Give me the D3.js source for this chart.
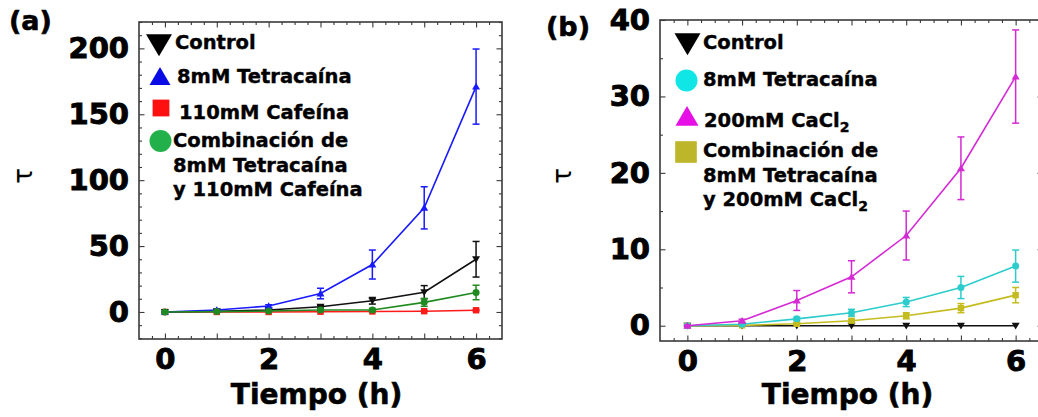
<!DOCTYPE html>
<html><head><meta charset="utf-8">
<script src="https://cdn.jsdelivr.net/npm/d3@7"></script>
<style>
html,body{margin:0;padding:0;background:#fff;}
svg{display:block;font-family:"DejaVu Sans",sans-serif;}
</style></head>
<body>
<svg id="chart" width="1038" height="417"></svg>
<script>
// ---------- data ----------
const hours = [0, 1, 2, 3, 4, 5, 6];
const xTickLabels = [0, 2, 4, 6];

// Panel (a)
const yTicksA = [0, 50, 100, 150, 200];
const controlA = [0, 0.5, 1.5, 4, 8.5, 15, 40];
const controlAErr = [0.3, 0.3, 0.5, 1, 2.5, 5, 13.5];
const tetraA = [0, 1.5, 4.5, 14, 36, 79, 171];
const tetraAErr = [0.5, 0.5, 1, 4, 11, 16, 28.5];
const cafA = [0, 0, 0, 0.2, 0.4, 0.6, 1.3];
const cafAErr = [0.1, 0.1, 0.1, 0.2, 0.3, 0.3, 0.5];
const combA = [0, 0.3, 0.7, 1.5, 1.5, 7.3, 14.8];
const combAErr = [0.2, 0.2, 0.3, 0.6, 1.2, 3, 5.5];
const legendA = ["Control", "8mM Tetracaína", "110mM Cafeína",
  ["Combinación de", "8mM Tetracaína", "y 110mM Cafeína"]];

// Panel (b)
const yTicksB = [0, 10, 20, 30, 40];
const controlB = [0, 0, 0, 0, 0, 0, 0];
const controlBErr = [0, 0, 0, 0, 0, 0, 0];
const tetraB = [0, 0.2, 0.9, 1.7, 3.1, 5.0, 7.8];
const tetraBErr = [0.05, 0.1, 0.2, 0.45, 0.6, 1.45, 2.1];
const caclB = [0, 0.65, 3.3, 6.4, 11.8, 20.6, 32.6];
const caclBErr = [0.1, 0.2, 1.3, 2.1, 3.2, 4.1, 6.1];
const combB = [0, 0.05, 0.25, 0.65, 1.3, 2.3, 4.0];
const combBErr = [0.05, 0.05, 0.1, 0.2, 0.4, 0.6, 1.0];
const legendB = ["Control", "8mM Tetracaína", "200mM CaCl2",
  ["Combinación de", "8mM Tetracaína", "y 200mM CaCl2"]];

// ---------- drawing ----------
const svg = d3.select("#chart");
const FONT = "DejaVu Sans";

function markerPath(shape, size) {
  const s = size;
  if (shape === "down") return `M${-s},${-s*0.75}L${s},${-s*0.75}L0,${s*0.95}Z`;
  if (shape === "up") return `M${-s},${s*0.75}L${s},${s*0.75}L0,${-s*0.95}Z`;
  if (shape === "square") return `M${-s*0.8},${-s*0.8}H${s*0.8}V${s*0.8}H${-s*0.8}Z`;
  return d3.symbol(d3.symbolCircle, Math.PI*s*s)();
}

function heavy(sel, w) {
  sel.attr("font-family", FONT).attr("font-weight", "bold").attr("fill", "#000")
    .attr("stroke", "#000").attr("stroke-width", w).attr("paint-order", "stroke");
}

function panel(cfg) {
  const g = svg.append("g");
  const {L, R, T, B} = cfg.box;
  const x = d3.scaleLinear().domain([-0.5, 6.5]).range([L, R]);
  const y = d3.scaleLinear().domain(cfg.yDomain).range([B, T]);

  // frame
  g.append("rect").attr("x", L).attr("y", T).attr("width", R - L).attr("height", B - T)
    .attr("fill", "none").attr("stroke", "#3a3a3a").attr("stroke-width", 1.6);

  // ticks (inside, all sides)
  const xMajor = d3.range(0, 7, 1);
  const xMinor = d3.range(-0.25, 6.5, 0.25).filter(v => Math.abs(v - Math.round(v)) > 1e-6);
  const yMajor = d3.range(0, cfg.yDomain[1] + 1e-6, cfg.yMajor);
  const yMinor = d3.range(Math.ceil(cfg.yDomain[0] / cfg.yMinor) * cfg.yMinor, cfg.yDomain[1] + 1e-6, cfg.yMinor)
    .filter(v => Math.abs(v / cfg.yMajor - Math.round(v / cfg.yMajor)) > 1e-6);
  const tickAxes = [
    [d3.axisBottom(x), B, 0], [d3.axisTop(x), T, 0],
    [d3.axisLeft(y), L, 1], [d3.axisRight(y), R, 1]
  ];
  tickAxes.forEach(([ax, pos, isY]) => {
    [[isY ? yMajor : xMajor, 5.5], [isY ? yMinor : xMinor, 3]].forEach(([vals, len]) => {
      const a = ax.tickValues(vals).tickSize(-len).tickFormat("");
      const gg = g.append("g").attr("transform", isY ? `translate(${pos},0)` : `translate(0,${pos})`).call(a);
      gg.select(".domain").remove();
      gg.selectAll("line").attr("stroke", "#3a3a3a").attr("stroke-width", 1.1);
    });
  });

  // tick labels
  const xl = g.append("g").attr("transform", `translate(0,${B})`)
    .call(d3.axisBottom(x).tickValues(xTickLabels).tickFormat(d3.format("d")).tickSize(0).tickPadding(9));
  xl.select(".domain").remove();
  xl.selectAll("text").attr("font-size", 29).call(heavy, 0.9);
  const yl = g.append("g").attr("transform", `translate(${L},0)`)
    .call(d3.axisLeft(y).tickValues(cfg.yTicks).tickFormat(d3.format("d")).tickSize(0).tickPadding(10));
  yl.select(".domain").remove();
  yl.selectAll("text").attr("font-size", 29).call(heavy, 0.9);

  // axis titles
  g.append("text").attr("x", (L + R) / 2 - 4).attr("y", 404).attr("text-anchor", "middle")
    .attr("font-size", 28).text("Tiempo (h)").call(heavy, 0.6);
  g.append("text").attr("transform", `translate(${cfg.tauX},176) rotate(-90)`)
    .attr("text-anchor", "middle").attr("dy", "0.35em")
    .attr("font-family", FONT).attr("font-size", 26).text("τ");
  g.append("text").attr("x", cfg.labelX).attr("y", cfg.labelY)
    .attr("font-size", 27).text(cfg.label).call(heavy, 0.6);

  // series
  const line = d3.line().x((d, i) => x(hours[i])).y(d => y(d));
  cfg.series.forEach(s => {
    const sg = g.append("g");
    sg.append("path").datum(s.values).attr("d", line).attr("fill", "none")
      .attr("stroke", s.line).attr("stroke-width", 1.6);
    s.values.forEach((v, i) => {
      const e = s.err[i];
      if (e > 0) {
        const cx = x(hours[i]);
        sg.append("line").attr("x1", cx).attr("x2", cx).attr("y1", y(v - e)).attr("y2", y(v + e))
          .attr("stroke", s.line).attr("stroke-width", 1.5);
        [v - e, v + e].forEach(w => sg.append("line").attr("x1", cx - 3.5).attr("x2", cx + 3.5)
          .attr("y1", y(w)).attr("y2", y(w)).attr("stroke", s.line).attr("stroke-width", 1.5));
      }
      sg.append("path").attr("transform", `translate(${x(hours[i])},${y(v)})`)
        .attr("d", markerPath(s.shape, s.shape === "circle" ? 3.5 : 4)).attr("fill", s.line);
    });
  });

  // legend
  cfg.legend.forEach((it, idx) => {
    g.append("path").attr("transform", `translate(${it.mx},${it.my})`)
      .attr("d", markerPath(it.shape, it.size)).attr("fill", it.color);
    const entry = cfg.legendText[idx];
    const lines = Array.isArray(entry) ? entry : [entry];
    lines.forEach((t, k) => {
      const txt = g.append("text").attr("x", it.tx).attr("y", it.ty + k * 24.5)
        .attr("font-size", 19.5).call(heavy, 0.4);
      const m = t.match(/^(.*CaCl)2$/);
      if (m) {
        txt.append("tspan").text(m[1]);
        txt.append("tspan").attr("dy", 5).attr("font-size", 14).text("2");
      } else txt.text(t);
    });
  });
}

panel({
  box: {L: 139, R: 502, T: 22, B: 339},
  yDomain: [-20.5, 220], yTicks: yTicksA, yMajor: 50, yMinor: 10,
  tauX: 23, label: "(a)", labelX: 9, labelY: 30,
  series: [
    {values: cafA, err: cafAErr, line: "#ff1a1a", shape: "square"},
    {values: controlA, err: controlAErr, line: "#111111", shape: "down"},
    {values: tetraA, err: tetraAErr, line: "#1a1aff", shape: "up"},
    {values: combA, err: combAErr, line: "#1f8a1f", shape: "circle"}
  ],
  legendText: legendA,
  legend: [
    {shape: "down", size: 13, color: "#000", mx: 159, my: 44, tx: 175, ty: 49},
    {shape: "up", size: 10.5, color: "#0a0ae6", mx: 160, my: 77, tx: 177, ty: 83},
    {shape: "square", size: 10.5, color: "#ff1010", mx: 161, my: 108, tx: 179, ty: 119},
    {shape: "circle", size: 11, color: "#22b04b", mx: 160.5, my: 141, tx: 173, ty: 147}
  ]
});

panel({
  box: {L: 660, R: 1043, T: 20, B: 341},
  yDomain: [-2, 40], yTicks: yTicksB, yMajor: 10, yMinor: 5,
  tauX: 562, label: "(b)", labelX: 546, labelY: 36,
  series: [
    {values: controlB, err: controlBErr, line: "#111111", shape: "down"},
    {values: combB, err: combBErr, line: "#c4bc1e", shape: "square"},
    {values: tetraB, err: tetraBErr, line: "#2dcccc", shape: "circle"},
    {values: caclB, err: caclBErr, line: "#d42ad4", shape: "up"}
  ],
  legendText: legendB,
  legend: [
    {shape: "down", size: 13, color: "#000", mx: 687.5, my: 43, tx: 703, ty: 49},
    {shape: "circle", size: 11, color: "#10e6e6", mx: 686.5, my: 80.5, tx: 703, ty: 86},
    {shape: "up", size: 11.5, color: "#e610e6", mx: 687, my: 117, tx: 704, ty: 127},
    {shape: "square", size: 13.5, color: "#bdb52a", mx: 686, my: 152, tx: 703, ty: 157}
  ]
});
</script>
</body></html>
